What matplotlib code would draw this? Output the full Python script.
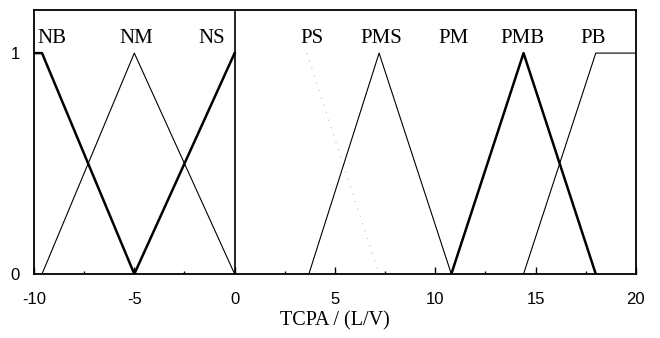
import numpy as np
import matplotlib.pyplot as plt

plt.rcParams['axes.unicode_minus'] = False

# membership functions for TCPA, breakpoints (x, mu)
nb_x = [-10, -9.6, -5.0]
nb_y = [1, 1, 0]
nm_x = [-9.6, -5.0, 0.0]
nm_y = [0, 1, 0]
ns_x = [-5.0, 0.0]
ns_y = [0, 1]
ps_x = [3.6, 7.2]
ps_y = [1, 0]
pms_x = [3.7, 7.2, 10.8]
pms_y = [0, 1, 0]
pmb_x = [10.8, 14.4, 18.0]
pmb_y = [0, 1, 0]
pb_x = [14.4, 18.0, 20.0]
pb_y = [0, 1, 1]

labels = ['NB', 'NM', 'NS', 'PS', 'PMS', 'PM', 'PMB', 'PB']
label_x = [-9.1, -4.9, -1.15, 3.85, 7.3, 10.9, 14.35, 17.85]

fig = plt.figure(figsize=(6.6, 3.38), dpi=100)
ax = fig.add_axes([0.0515, 0.1893, 0.912, 0.7811])

thick = 1.8
thin = 0.8
ax.plot(nb_x, nb_y, color='black', lw=thick)
ax.plot(nm_x, nm_y, color='black', lw=thin)
ax.plot(ns_x, ns_y, color='black', lw=thick)
ax.plot(ps_x, ps_y, color='#bdbdbd', lw=0.8, linestyle=(0, (1, 6)))
ax.plot(pms_x, pms_y, color='black', lw=thin)
ax.plot(pmb_x, pmb_y, color='black', lw=thick)
ax.plot(pb_x, pb_y, color='black', lw=thin)
ax.axvline(0, color='black', lw=1.2)

for name, x in zip(labels, label_x):
    ax.text(x, 1.065, name, ha='center', va='center', fontsize=15,
            family='Liberation Serif')

ax.set_xlim(-10, 20)
ax.set_ylim(0, 1.195)
ax.set_xticks(np.arange(-10, 21, 5))
ax.set_xticks(np.arange(-10, 21, 2.5), minor=True)
ax.set_yticks([0, 1])
ax.tick_params(axis='x', which='major', direction='in', length=5, width=1,
               pad=13, labelsize=12)
ax.tick_params(axis='x', which='minor', direction='in', length=2.5, width=1)
ax.tick_params(axis='y', length=0, pad=10, labelsize=12)
for lab in ax.get_xticklabels() + ax.get_yticklabels():
    lab.set_family('Liberation Sans')
for s in ax.spines.values():
    s.set_linewidth(1.3)

ax.set_xlabel('TCPA / (L/V)', fontsize=14.5, family='Liberation Serif', labelpad=3)

fig.savefig('out.png', dpi=100)
